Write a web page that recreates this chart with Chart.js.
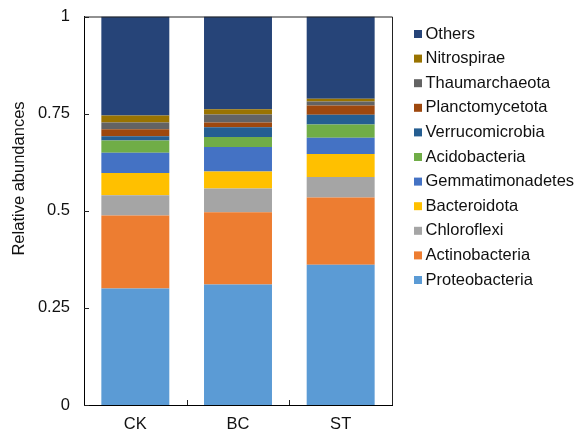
<!DOCTYPE html>
<html>
<head>
<meta charset="utf-8">
<script src="https://cdn.jsdelivr.net/npm/chart.js@4/dist/chart.umd.min.js"></script>
<style>
  body { margin: 0; background: #fff; }
  #wrap { width: 580px; height: 432px; }
</style>
</head>
<body>
<div id="wrap"><canvas id="bar"></canvas></div>
<script>
// samples on the x axis
const groups = ["CK", "BC", "ST"];
const yTicks = ["0", "0.25", "0.5", "0.75", "1"];
const yTitle = "Relative abundances";

// phylum names, bottom of the stack first
const phyla = ["Proteobacteria", "Actinobacteria", "Chloroflexi", "Bacteroidota", "Gemmatimonadetes",
    "Acidobacteria", "Verrucomicrobia", "Planctomycetota", "Thaumarchaeota", "Nitrospirae", "Others"];
const colours = ["#5B9BD5", "#ED7D31", "#A5A5A5", "#FFC000", "#4472C4",
    "#70AD47", "#255E91", "#9E480E", "#636363", "#997300", "#264478"];

// relative abundance per phylum, values for CK, BC, ST
const proteobacteria = [0.300, 0.310, 0.361];
const actinobacteria = [0.188, 0.186, 0.173];
const chloroflexi = [0.052, 0.061, 0.053];
const bacteroidota = [0.057, 0.044, 0.059];
const gemmatimonadetes = [0.052, 0.063, 0.042];
const acidobacteria = [0.032, 0.026, 0.034];
const verrucomicrobia = [0.011, 0.025, 0.025];
const planctomycetota = [0.018, 0.012, 0.024];
const thaumarchaeota = [0.017, 0.021, 0.010];
const nitrospirae = [0.018, 0.013, 0.007];
const others = [0.255, 0.239, 0.212];

const series = [proteobacteria, actinobacteria, chloroflexi, bacteroidota, gemmatimonadetes,
    acidobacteria, verrucomicrobia, planctomycetota, thaumarchaeota, nitrospirae, others];

const font = { family: "'Liberation Sans', Arial, sans-serif", size: 16.5 };

// frame round the plot, the short inward ticks like in excel, and the y title
const frame = {
    id: "frame",
    afterDraw(chart) {
        let ctx = chart.ctx;
        let a = chart.chartArea;
        let x = chart.scales.x;
        let y = chart.scales.y;
        ctx.save();
        ctx.strokeStyle = "#222";
        ctx.lineWidth = 1;
        ctx.beginPath();
        ctx.moveTo(a.left, a.top + 0.5);
        ctx.lineTo(a.right + 0.5, a.top + 0.5);
        ctx.lineTo(a.right + 0.5, a.bottom);
        // y ticks
        y.ticks.forEach(t => {
            let py = Math.round(y.getPixelForValue(t.value)) + 0.5;
            ctx.moveTo(a.left, py);
            ctx.lineTo(a.left + 5, py);
        });
        // x ticks between the groups
        for (let i = 1; i < groups.length; i++) {
            let px = Math.round((x.getPixelForValue(i - 1) + x.getPixelForValue(i)) / 2) + 0.5;
            ctx.moveTo(px, a.bottom);
            ctx.lineTo(px, a.bottom - 5);
        }
        ctx.stroke();

        // y title sits higher than the middle of the axis
        ctx.translate(19, 178.5);
        ctx.rotate(-Math.PI / 2);
        ctx.font = font.size + "px " + font.family;
        ctx.fillStyle = "#111";
        ctx.textAlign = "center";
        ctx.textBaseline = "middle";
        ctx.fillText(yTitle, 0, 0);
        ctx.restore();
    }
};

// legend on the right, top item is the top of the stack
const sideLegend = {
    id: "sideLegend",
    afterDraw(chart) {
        let ctx = chart.ctx;
        let sets = chart.data.datasets.slice().reverse();
        ctx.save();
        ctx.font = font.size + "px " + font.family;
        ctx.textBaseline = "middle";
        ctx.textAlign = "left";
        sets.forEach((ds, i) => {
            let cy = 34 + i * 24.6;
            ctx.fillStyle = ds.backgroundColor;
            ctx.fillRect(414, cy - 4, 8, 8);
            ctx.fillStyle = "#111";
            ctx.fillText(ds.label, 425.5, cy);
        });
        ctx.restore();
    }
};

new Chart(document.getElementById("bar"), {
    type: "bar",
    data: {
        labels: groups,
        datasets: series.map((vals, i) => ({
            label: phyla[i],
            data: vals,
            backgroundColor: colours[i],
            borderWidth: 0,
            barPercentage: 0.662,
            categoryPercentage: 1
        }))
    },
    options: {
        responsive: true,
        maintainAspectRatio: false,
        animation: false,
        layout: { padding: { top: 16.5, right: 188, left: 7, bottom: 0 } },
        plugins: {
            tooltip: { enabled: false },
            legend: { display: false }
        },
        scales: {
            x: {
                stacked: true,
                grid: { display: false, drawTicks: false },
                border: { display: true, color: "#000", width: 1 },
                ticks: { color: "#111", font: font, padding: 10 },
                afterFit: s => { s.height = 27; }
            },
            y: {
                stacked: true,
                min: 0,
                max: 1,
                grid: { display: false, drawTicks: false },
                border: { display: true, color: "#000", width: 1 },
                ticks: {
                    stepSize: 0.25,
                    color: "#111",
                    font: font,
                    padding: 14,
                    callback: (v, i) => yTicks[i]
                },
                title: { display: false },
                afterFit: s => {
                    s.width = 77;
                    s.paddingTop = 0;
                    s.paddingBottom = 0;
                }
            }
        }
    },
    plugins: [frame, sideLegend]
});
</script>
</body>
</html>
